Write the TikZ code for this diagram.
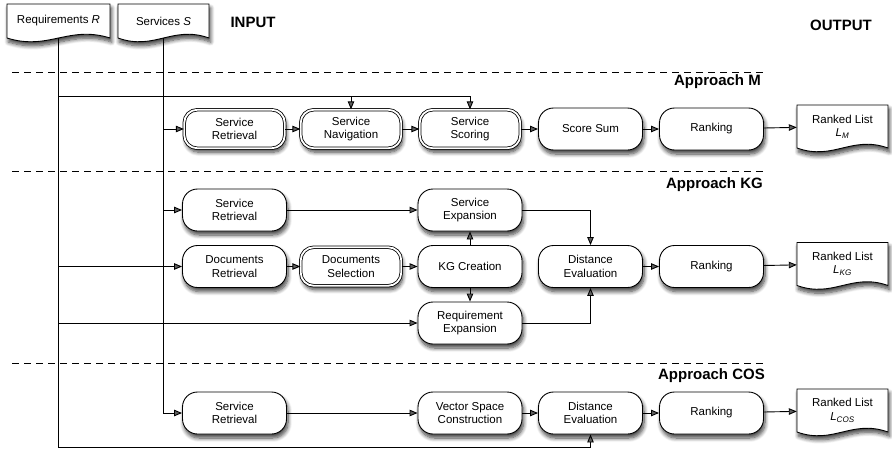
\documentclass[tikz,border=0pt]{standalone}
\usepackage{fontspec}
\setmainfont{Liberation Sans}
\usetikzlibrary{arrows.meta,shadows.blur}
\newcommand{\rankL}[1]{\textit{L}\textsubscript{\textit{#1}}}
% document shape: centre x, centre y, width, height
\newcommand{\docshape}[4]{%
  \draw[docline, shift={(#1,#2)}] ({-#3/2},{-#4/2}) -- ({#3/2},{-#4/2}) -- ({#3/2},{#4/2})
      .. controls +({-0.4*#3},-13) and +({0.4*#3},13) .. ({-#3/2},{#4/2}) -- cycle;}
\tikzset{
  myshadow/.style={blur shadow={shadow xshift=1.5pt, shadow yshift=-4pt, shadow blur radius=4pt, shadow blur steps=8, shadow opacity=75}},
  proc/.style={rectangle, rounded corners=15pt, draw, line width=0.9pt, fill=white,
    minimum width=104pt, minimum height=42pt, align=center, inner sep=0pt,
    font=\fontsize{11.5}{13.5}\selectfont, myshadow},
  dproc/.style={proc, rounded corners=13pt, double=white, double distance=1.8pt, line width=0.8pt,
    minimum width=100.5pt, minimum height=38.5pt},
  doc/.style={rectangle, minimum width=91pt, minimum height=43pt, align=center, inner sep=0pt,
    font=\fontsize{11.5}{13.5}\selectfont},
  docline/.style={line width=0.9pt, fill=white, myshadow},
  lbl/.style={font=\fontsize{15}{18}\selectfont\bfseries, inner sep=0pt},
  arr/.style={line width=0.9pt, -{Triangle[length=8pt,width=6.5pt]}},
  sep/.style={line width=0.8pt, dash pattern=on 7pt off 5pt},
}
\begin{document}
\begin{tikzpicture}[x=1pt,y=-1pt]
\useasboundingbox (0,0) rectangle (892,450);

% input documents
\docshape{58.5}{21}{103}{34}
\docshape{163.5}{21}{91}{34}
\node[doc, minimum width=103pt, minimum height=34pt] (req) at (58.5,21) {Requirements \textit{R}};
\node[doc, minimum height=34pt] (srv) at (163.5,21) {Services \textit{S}};
\node[lbl] (inp) at (253,22) {INPUT};
\node[lbl] (outp) at (841,25) {OUTPUT};

% separators and approach labels
\draw[sep] (12,72) -- (763,72);
\draw[sep] (12,171) -- (763,171);
\draw[sep] (12,363) -- (763,363);
\node[lbl, anchor=east] (apM) at (761,82) {Approach M};
\node[lbl, anchor=east] (apK) at (763,185) {Approach KG};
\node[lbl, anchor=east] (apC) at (765,376) {Approach COS};

% Approach M
\node[dproc] (srM) at (234.5,129) {Service\\Retrieval};
\node[dproc] (snM) at (351,129) {Service\\Navigation};
\node[dproc] (scM) at (470,129) {Service\\Scoring};
\node[proc] (ssM) at (590.5,129) {Score Sum};
\node[proc] (rkM) at (711.5,129) {Ranking};
\docshape{842.5}{126.5}{91}{43}
\node[doc] (outM) at (842.5,126.5) {Ranked List\\\rankL{M}};

% Approach KG
\node[proc] (srK) at (234.5,210) {Service\\Retrieval};
\node[proc] (seK) at (470,210) {Service\\Expansion};
\node[proc] (drK) at (234.5,266.5) {Documents\\Retrieval};
\node[dproc] (dsK) at (351,266.5) {Documents\\Selection};
\node[proc] (kgK) at (470,266.5) {KG Creation};
\node[proc] (deK) at (590.5,266.5) {Distance\\Evaluation};
\node[proc] (rkK) at (711.5,266.5) {Ranking};
\docshape{842.5}{264}{91}{43}
\node[doc] (outK) at (842.5,264) {Ranked List\\\rankL{KG}};
\node[proc] (reK) at (470,323) {Requirement\\Expansion};

% Approach COS
\node[proc] (srC) at (234.5,413) {Service\\Retrieval};
\node[proc] (vsC) at (470,413) {Vector Space\\Construction};
\node[proc] (deC) at (590.5,413) {Distance\\Evaluation};
\node[proc] (rkC) at (711.5,413) {Ranking};
\docshape{842.5}{410.5}{91}{43}
\node[doc] (outC) at (842.5,410.5) {Ranked List\\\rankL{COS}};

% helper coordinates
\coordinate (ytop) at (0,96);
\coordinate (rbot) at (58.5,447);

% requirements line
\draw[arr] (req.south) -- (rbot) -| (deC.south);
\draw[arr] (req.south |- ytop) -| (scM.north);
\draw[arr] (snM.north |- ytop) -- (snM.north);
\draw[arr] (req.south |- drK.west) -- (drK.west);
\draw[arr] (req.south |- reK.west) -- (reK.west);

% services line
\draw[arr] (srv.south) |- (srC.west);
\draw[arr] (srv.south |- srM.west) -- (srM.west);
\draw[arr] (srv.south |- srK.west) -- (srK.west);

% M chain
\draw[arr] (srM) -- (snM);
\draw[arr] (snM) -- (scM);
\draw[arr] (scM) -- (ssM);
\draw[arr] (ssM) -- (rkM);
\draw[arr] (rkM) -- (outM);

% KG chain
\draw[arr] (srK) -- (seK);
\draw[arr] (drK) -- (dsK);
\draw[arr] (dsK) -- (kgK);
\draw[arr] (kgK) -- (seK);
\draw[arr] (kgK) -- (reK);
\draw[arr] (seK.east) -| (deK.north);
\draw[arr] (reK.east) -| (deK.south);
\draw[arr] (deK) -- (rkK);
\draw[arr] (rkK) -- (outK);

% COS chain
\draw[arr] (srC) -- (vsC);
\draw[arr] (vsC) -- (deC);
\draw[arr] (deC) -- (rkC);
\draw[arr] (rkC) -- (outC);
\end{tikzpicture}
\end{document}
